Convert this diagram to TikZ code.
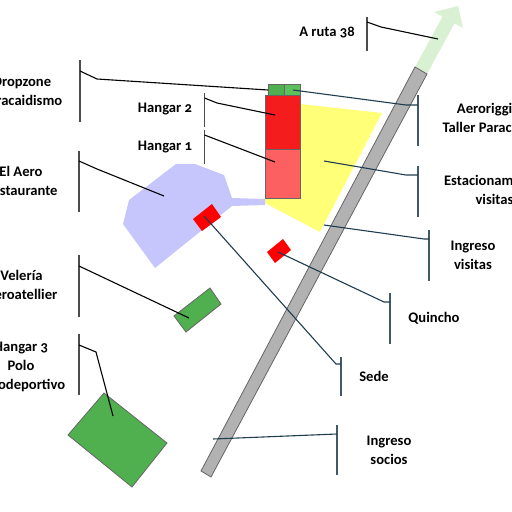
\documentclass[tikz,border=0pt]{standalone}
\usepackage{fontspec}
\setmainfont[Numbers=OldStyle]{Carlito}
\usepackage{tikz}
\definecolor{cgreen}{HTML}{50B050}
\definecolor{cgreenb}{HTML}{5CC05C}
\definecolor{cpale}{HTML}{D9F1D2}
\definecolor{cblue}{HTML}{C6C6FD}
\definecolor{cyel}{HTML}{FFFF78}
\definecolor{cred}{HTML}{F41C1C}
\definecolor{cpure}{HTML}{FF0000}
\definecolor{cpink}{HTML}{FC6060}
\definecolor{croad}{HTML}{B2B2B2}
\definecolor{cteal}{HTML}{1F3D50}
\tikzset{
  lbl/.style={font=\bfseries\fontsize{14.6}{18.7}\selectfont, align=center, text=black, inner sep=0pt},
  zone/.style={draw=none},
  bldg/.style={draw=black!60, line width=0.8pt},
  bar/.style={draw=black!70, line width=1.4pt},
  barb/.style={draw=cteal!85, line width=1.4pt},
  lead/.style={draw=black, line width=1.1pt},
  leadb/.style={draw=cteal, line width=1.1pt},
}
\begin{document}
\begin{tikzpicture}[x=1pt,y=-1pt]
\useasboundingbox (0,0) rectangle (512,512);
% zones
\fill[zone, cyel] (265,104) -- (300,104) -- (382,113) -- (320,232) -- (265,203) -- cycle;
\fill[zone, cblue] (176,164) -- (195,164) -- (224,175) -- (232,198) -- (265,199) -- (265,205) -- (232,206) -- (155,268) -- (123,224) -- (129,200) -- cycle;
% road and arrow
\fill[cpale] (415,67) -- (442.5,16.5) -- (434,12) -- (458,6) -- (463,28) -- (454.5,23.5) -- (427,74) -- cycle;
\filldraw[bldg, fill=croad] (415,67) -- (427,74) -- (211,477) -- (201,471) -- cycle;
% buildings
\filldraw[bldg, fill=cred] (265,95) rectangle (300,149);
\filldraw[bldg, fill=cpink] (265,149) rectangle (300,198.5);
\filldraw[bldg, fill=cgreen] (268,84) rectangle (284,95);
\filldraw[bldg, fill=cgreenb] (284,84) rectangle (300,95);
\fill[cpure] (212,204) -- (221,217) -- (202,231) -- (193,219) -- cycle;
\fill[cpure] (283,239) -- (291,250) -- (275,263) -- (267,252) -- cycle;
\filldraw[bldg, fill=cgreen] (210,288) -- (221,304) -- (186,332) -- (174,316) -- cycle;
\filldraw[bldg, fill=cgreen] (104,393) -- (167,443) -- (132,487) -- (68,435) -- cycle;
% labels
\node[lbl] (drop) at (22,91) {Dropzone\\Paracaidismo};
\node[lbl] (hang2) at (165,109) {Hangar 2};
\node[lbl] (hang1) at (165,147) {Hangar 1};
\node[lbl] (resto) at (21,181) {El Aero\\Restaurante};
\node[lbl] (vele) at (21.5,285) {Velería\\Aeroatellier};
\node[lbl] (hang3) at (21,367) {Hangar 3\\Polo\\Aerodeportivo};
\node[lbl] (ruta) at (327,33) {A ruta 38};
\node[lbl] (rigg) at (501,118) {Aerorigging\hspace*{18pt}\\Taller Paracaidismo};
\node[lbl] (esta) at (494.5,190) {Estacionamiento\\visitas};
\node[lbl] (ingv) at (473,255) {Ingreso\\visitas};
\node[lbl] (quin) at (434,318) {Quincho};
\node[lbl] (sede) at (374,376) {Sede};
\node[lbl] (ings) at (389,450.5) {Ingreso\\socios};
% bars and leaders, left side
\draw[bar] (80,60) -- (80,122);
\draw[lead] (80,71) -- (97,79) -- (268,90);
\draw[bar] (204.5,93) -- (204.5,127);
\draw[lead] (204.5,98) -- (217,103) -- (275,115);
\draw[bar] (204.5,130) -- (204.5,164);
\draw[lead] (204.5,135) -- (275,162);
\draw[bar] (79,151) -- (79,212);
\draw[lead] (79,161) -- (97,169) -- (164,196);
\draw[bar] (79,255) -- (79,317);
\draw[lead] (79,266) -- (189,318);
\draw[bar] (79,334) -- (79,395);
\draw[lead] (79,345) -- (96,352) -- (113,416);
\draw[bar] (367,17) -- (367,51);
\draw[lead] (367,22) -- (381,27) -- (438,39);
% bars and leaders, right side
\draw[barb] (418,95) -- (418,146);
\draw[leadb] (293,90) -- (406,105) -- (418,105);
\draw[barb] (418,166) -- (418,217);
\draw[leadb] (324,161) -- (406,175) -- (418,175);
\draw[barb] (429,230) -- (429,281);
\draw[leadb] (324,225) -- (424,239) -- (429,239);
\draw[barb] (390,293) -- (390,344);
\draw[leadb] (278,252) -- (384,302) -- (390,302);
\draw[barb] (341,357) -- (341,396);
\draw[leadb] (204,216) -- (336,364) -- (341,364);
\draw[barb] (337,425) -- (337,475);
\draw[leadb] (337,434) -- (213,439);
\end{tikzpicture}
\end{document}
